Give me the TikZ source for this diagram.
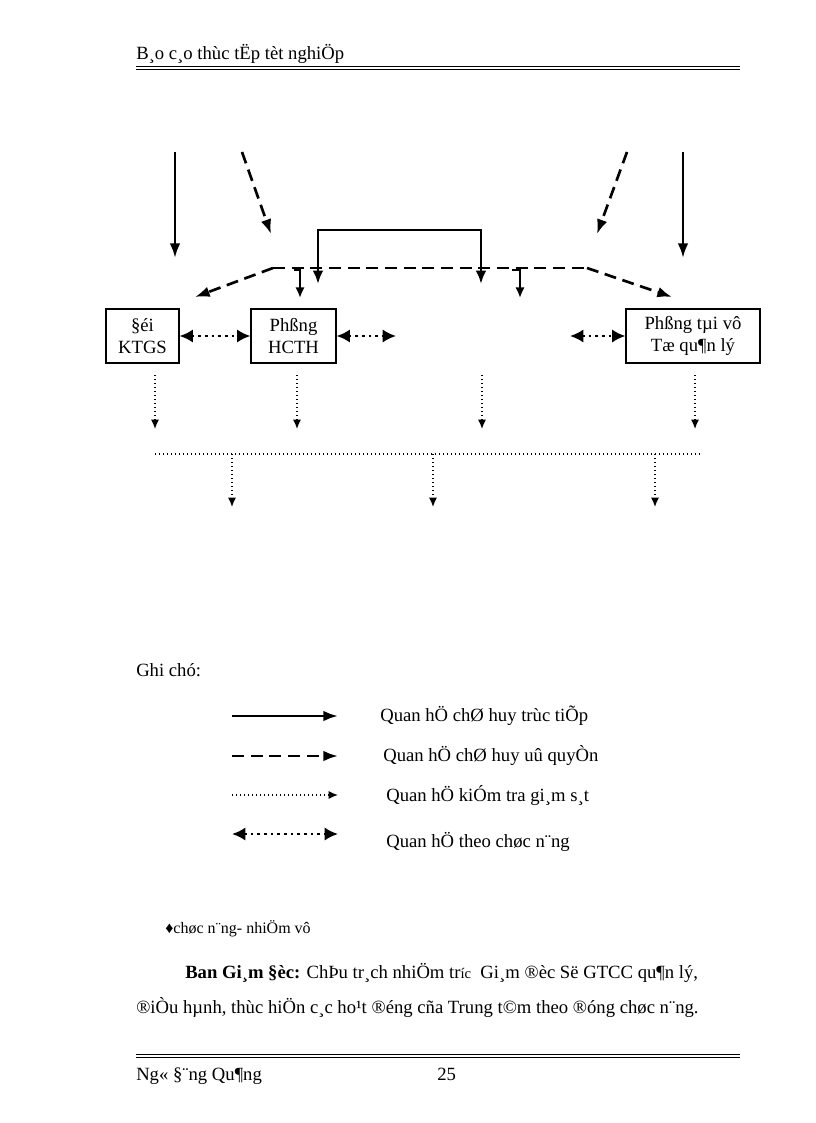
\documentclass[tikz,border=0pt]{standalone}
\usepackage{fontspec}
\setmainfont{Liberation Serif}
\usetikzlibrary{arrows.meta}
\begin{document}
\begin{tikzpicture}[x=0.75pt,y=-0.75pt,
  txt/.style={anchor=base west,inner sep=0pt,font=\fontsize{14}{16}\selectfont},
  box/.style={draw,line width=0.8pt,align=center,inner sep=0pt,font=\fontsize{14}{17}\selectfont},
  solidarr/.style={line width=2pt,-{Latex[length=11pt,width=8pt]}},
  dasharr/.style={line width=2pt,dash pattern=on 9pt off 5pt,-{Latex[length=11pt,width=8pt]}},
  dotarr/.style={line width=1pt,dotted,-{Latex[length=7pt,width=6pt]}},
  biarr/.style={line width=2pt,dash pattern=on 2pt off 3pt,{Latex[length=10pt,width=10pt]}-{Latex[length=10pt,width=10pt]}}]
\useasboundingbox (0,0) rectangle (816,1123);
% header
\node[txt] (hdr) at (136,60) {B¸o c¸o thùc tËp tèt nghiÖp};
\draw[line width=0.7pt] (136,66) -- (740,66) (136,69.5) -- (740,69.5);
% top arrows
\coordinate (s1) at (175,152); \coordinate (e1) at (175,258);
\coordinate (s2) at (683,152); \coordinate (e2) at (683,258);
\draw[solidarr] (s1) -- (e1);
\draw[solidarr] (s2) -- (e2);
\coordinate (d1) at (242,152); \coordinate (f1) at (271,234);
\coordinate (d2) at (627,152); \coordinate (f2) at (597,234);
\draw[dasharr] (d1) -- (f1);
\draw[dasharr] (d2) -- (f2);
% boxes
\node[box,minimum width=54.75pt,minimum height=40.5pt] (ktgs) at (142.5,336) {§éi\\KTGS};
\node[box,minimum width=63.75pt,minimum height=40.5pt] (hcth) at (293.5,336) {Phßng\\HCTH};
\node[box,minimum width=100.5pt,minimum height=40.5pt] (tv) at (693,336) {Phßng tµi vô\\Tæ qu¶n lý};
% dashed distribution
\coordinate (hl) at (273,268); \coordinate (hr) at (587,268);
\draw[line width=2pt,dash pattern=on 9pt off 5pt] (hl) -- (hr);
\draw[dasharr] (hl) -- (195,297);
\draw[dasharr] (hr) -- (672,297);
\draw[line width=2pt,-{Latex[length=8pt,width=7pt]}] (294,270) -- (300,270) -- (300,298);
\draw[line width=2pt,-{Latex[length=8pt,width=7pt]}] (512,270) -- (520,270) -- (520,298);
% solid bracket
\draw[line width=2.2pt,{Latex[length=10pt,width=8pt]}-{Latex[length=10pt,width=8pt]}] (318,284) -- (318,230) -- (481,230) -- (481,284);
% functional relations
\draw[biarr] (ktgs.east) -- (hcth.west);
\coordinate (b1) at (396,336); \coordinate (b2) at (570,336);
\draw[biarr] (hcth.east) -- (b1);
\draw[biarr] (b2) -- (tv.west);
% dotted down arrows
\foreach \x in {155,297,482,695} \draw[dotarr] (\x,375) -- (\x,429);
\draw[line width=1pt,dotted] (155,454) -- (700,454);
\foreach \x in {232,433,655} \draw[dotarr] (\x,454) -- (\x,507);
% legend
\node[txt] (ghi) at (136,676) {Ghi chó:};
\draw[solidarr] (232,716) -- (338,716);
\node[txt] (l1) at (380,721) {Quan hÖ chØ huy trùc tiÕp};
\draw[dasharr] (232,756) -- (338,756);
\node[txt] (l2) at (383,761) {Quan hÖ chØ huy uû quyÒn};
\draw[dotarr] (232,795) -- (338,795);
\node[txt] (l3) at (386,801) {Quan hÖ kiÓm tra gi¸m s¸t};
\draw[biarr] (232,834) -- (338,834);
\node[txt] (l4) at (386,847) {Quan hÖ theo chøc n¨ng};
% text
\node[txt,font=\fontsize{12}{14}\selectfont] (cn) at (165,933) {♦chøc n¨ng- nhiÖm vô};
\node[txt] (p1) at (185,978) {\textbf{Ban Gi¸m §èc:} ChÞu tr¸ch nhiÖm tr{\fontsize{11}{12}\selectfont íc}\ \ Gi¸m ®èc Së GTCC qu¶n lý,};
\node[txt] (p2) at (136,1013) {®iÒu hµnh, thùc hiÖn c¸c ho¹t ®éng cña Trung t©m theo ®óng chøc n¨ng.};
% footer
\draw[line width=0.7pt] (136,1054) -- (740,1054) (136,1057.5) -- (740,1057.5);
\node[txt] (ft) at (136,1080) {Ng« §¨ng Qu¶ng};
\node[txt] (pg) at (437,1080) {25};
\end{tikzpicture}
\end{document}
